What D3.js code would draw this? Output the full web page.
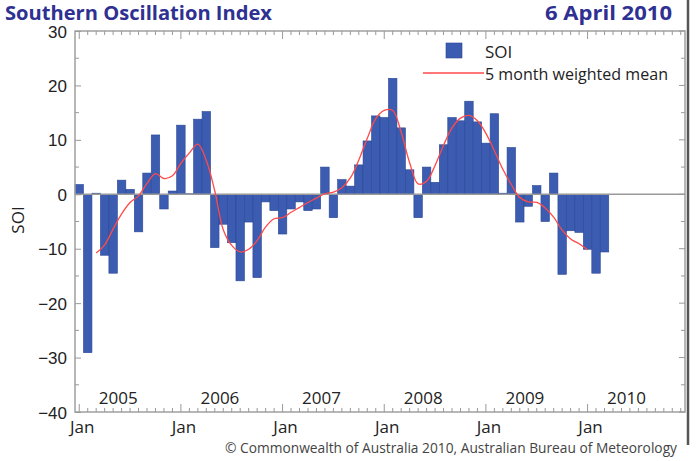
<!DOCTYPE html>
<html>
<head>
<meta charset="utf-8">
<script src="https://cdn.jsdelivr.net/npm/d3@7"></script>
<style>
  body{margin:0;background:#fff;}
  svg{display:block;font-family:"Open Sans","Noto Sans",sans-serif;}
  .tick text{font-size:17px;fill:#222;}
</style>
</head>
<body>
<div id="chart"></div>
<script>
// monthly SOI, Jan 2005 .. Mar 2010
var startYear = 2005;
var soiValues = [
  1.8, -29.1, 0.2, -11.2, -14.5, 2.6, 0.9, -6.9, 3.9, 10.9, -2.7, 0.6,
  12.7, 0.1, 13.8, 15.2, -9.8, -5.5, -8.9, -15.9, -5.1, -15.3, -1.4, -3.0,
  -7.3, -2.7, -1.4, -3.0, -2.7, 5.0, -4.3, 2.7, 1.5, 5.4, 9.8, 14.4,
  14.1, 21.3, 12.2, 4.5, -4.3, 5.0, 2.2, 9.1, 14.1, 13.5, 17.1, 13.3,
  9.4, 14.8, 0.2, 8.6, -5.1, -2.2, 1.6, -5.0, 3.9, -14.7, -6.7, -7.0,
  -10.1, -14.5, -10.6
];
// 5 month weighted mean, Mar 2005 .. Jan 2010
var meanStartMonth = 2;
var meanValues = [
  -10.8, -9.3, -6.4, -3.6, -1.5, -0.3, 2.0, 3.8, 2.9, 3.4,
  5.7, 7.6, 9.2, 6.2, 0.6, -6.5, -9.4, -10.6, -10.1, -8.5,
  -6.0, -4.5, -4.3, -3.3, -2.4, -1.5, -0.7, 0.1, 0.4, 1.2,
  3.0, 6.3, 10.3, 13.9, 15.4, 15.4, 11.4, 5.8, 1.9, 2.4,
  5.3, 9.0, 12.2, 14.0, 14.5, 13.5, 11.2, 8.0, 4.6, 1.8,
  -0.6, -1.4, -1.5, -2.5, -4.2, -6.6, -8.2, -9.1, -10.2
];
var yearLabels = ["2005", "2006", "2007", "2008", "2009", "2010"];
var yTickValues = [30, 20, 10, 0, -10, -20, -30, -40];
var monthCount = 72;

var W = 698, H = 461;
var plotL = 75, plotR = 685, plotT = 31, plotB = 412;
var blue = "#2e3092";

var svg = d3.select("#chart").append("svg")
  .attr("width", W).attr("height", H);

var x = d3.scaleLinear().domain([0, monthCount]).range([plotL, plotR]);
var y = d3.scaleLinear().domain([-40, 30]).range([plotB, plotT]);

// titles
svg.append("text").attr("x", 5).attr("y", 20)
  .attr("textLength", 267).attr("lengthAdjust", "spacingAndGlyphs")
  .style("font-size", "19px").style("font-weight", "bold").style("fill", blue)
  .text("Southern Oscillation Index");
svg.append("text").attr("x", 545).attr("y", 20)
  .attr("textLength", 127).attr("lengthAdjust", "spacingAndGlyphs")
  .style("font-size", "19px").style("font-weight", "bold").style("fill", blue)
  .text("6 April 2010");

// bars
svg.selectAll("rect.bar")
  .data(soiValues)
  .enter()
  .append("rect")
  .attr("class", "bar")
  .attr("x", function(d, i){ return x(i); })
  .attr("width", function(d, i){ return x(i + 1) - x(i); })
  .attr("y", function(d){ return y(Math.max(0, d)); })
  .attr("height", function(d){ return Math.abs(y(d) - y(0)); })
  .style("fill", "#3b5cb0")
  .style("stroke", "#2a4795")
  .style("stroke-width", 0.6);

// zero line
svg.append("line")
  .attr("x1", plotL).attr("x2", plotR)
  .attr("y1", y(0)).attr("y2", y(0))
  .style("stroke", "#9a9a9a").style("stroke-width", 1.5);

// weighted mean
var meanLine = d3.line()
  .x(function(d, i){ return x(meanStartMonth + i + 0.5); })
  .y(function(d){ return y(d); })
  .curve(d3.curveCatmullRom.alpha(0.5));
svg.append("path")
  .datum(meanValues)
  .attr("d", meanLine)
  .style("fill", "none")
  .style("stroke", "#ff4a4a")
  .style("stroke-width", 1.3);

// frame
svg.append("rect")
  .attr("x", plotL).attr("y", plotT)
  .attr("width", plotR - plotL).attr("height", plotB - plotT)
  .style("fill", "none").style("stroke", "#a0a0a0").style("stroke-width", 1.5);

// month ticks on top and bottom
var monthCentres = d3.range(monthCount).map(function(i){ return i + 0.5; });
var tickLen = function(m){ return (Math.floor(m) % 12 === 0) ? 8 : 4; };
svg.append("g").selectAll("line")
  .data(monthCentres).enter().append("line")
  .attr("x1", function(m){ return x(m); }).attr("x2", function(m){ return x(m); })
  .attr("y1", plotT).attr("y2", function(m){ return plotT + tickLen(m); })
  .style("stroke", "#999").style("stroke-width", 1);
svg.append("g").selectAll("line")
  .data(monthCentres).enter().append("line")
  .attr("x1", function(m){ return x(m); }).attr("x2", function(m){ return x(m); })
  .attr("y1", plotB).attr("y2", function(m){ return plotB - tickLen(m); })
  .style("stroke", "#999").style("stroke-width", 1);

// y axis, ticks inward
var yAxis = d3.axisLeft(y).tickValues(yTickValues).tickSize(-6).tickPadding(8);
var gy = svg.append("g").attr("transform", "translate(" + plotL + ",0)").call(yAxis);
gy.select(".domain").remove();
gy.selectAll(".tick line").style("stroke", "#999");
gy.selectAll(".tick text").attr("dy", "0.36em");

var minorY = d3.range(-35, 30, 10);
svg.append("g").selectAll("line")
  .data(minorY).enter().append("line")
  .attr("x1", plotL).attr("x2", plotL + 4)
  .attr("y1", function(d){ return y(d); }).attr("y2", function(d){ return y(d); })
  .style("stroke", "#999");
svg.append("g").selectAll("line")
  .data(yTickValues.concat(minorY)).enter().append("line")
  .attr("x1", plotR).attr("x2", function(d){ return plotR - (d % 10 === 0 ? 6 : 4); })
  .attr("y1", function(d){ return y(d); }).attr("y2", function(d){ return y(d); })
  .style("stroke", "#999");

// year labels inside, Jan labels below
svg.append("g").selectAll("text")
  .data(yearLabels).enter().append("text")
  .attr("x", function(d, i){ return x(i * 12 + 0.5) + 39; })
  .attr("y", 404)
  .attr("text-anchor", "middle")
  .style("font-size", "17px").style("fill", "#222")
  .text(String);
svg.append("g").selectAll("text")
  .data(yearLabels).enter().append("text")
  .attr("x", function(d, i){ return x(i * 12 + 0.5) + 3; })
  .attr("y", 433)
  .attr("text-anchor", "middle")
  .style("font-size", "17px").style("fill", "#222")
  .text("Jan");

// y title
svg.append("text")
  .attr("transform", "translate(24,220) rotate(-90)")
  .attr("text-anchor", "middle")
  .style("font-size", "17px").style("fill", "#222")
  .text("SOI");

// legend
svg.append("rect").attr("x", 446).attr("y", 43).attr("width", 16).attr("height", 15)
  .style("fill", "#3b5cb0").style("stroke", "#2a4795").style("stroke-width", 0.6);
svg.append("text").attr("x", 485).attr("y", 58)
  .style("font-size", "17px").style("fill", "#222").text("SOI");
svg.append("line").attr("x1", 423).attr("x2", 484).attr("y1", 73).attr("y2", 73)
  .style("stroke", "#ff4a4a").style("stroke-width", 1.3);
svg.append("text").attr("x", 485).attr("y", 80)
  .attr("textLength", 183).attr("lengthAdjust", "spacingAndGlyphs")
  .style("font-size", "17px").style("fill", "#222").text("5 month weighted mean");

// credit
svg.append("text").attr("x", 225).attr("y", 453)
  .attr("textLength", 452).attr("lengthAdjust", "spacingAndGlyphs")
  .style("font-size", "14px").style("fill", "#444")
  .text("\u00A9 Commonwealth of Australia 2010, Australian Bureau of Meteorology");

// page edge on the right
svg.append("line").attr("x1", 688).attr("x2", 688).attr("y1", 0).attr("y2", 445)
  .style("stroke", "#555").style("stroke-width", 2.5);
</script>
</body>
</html>
